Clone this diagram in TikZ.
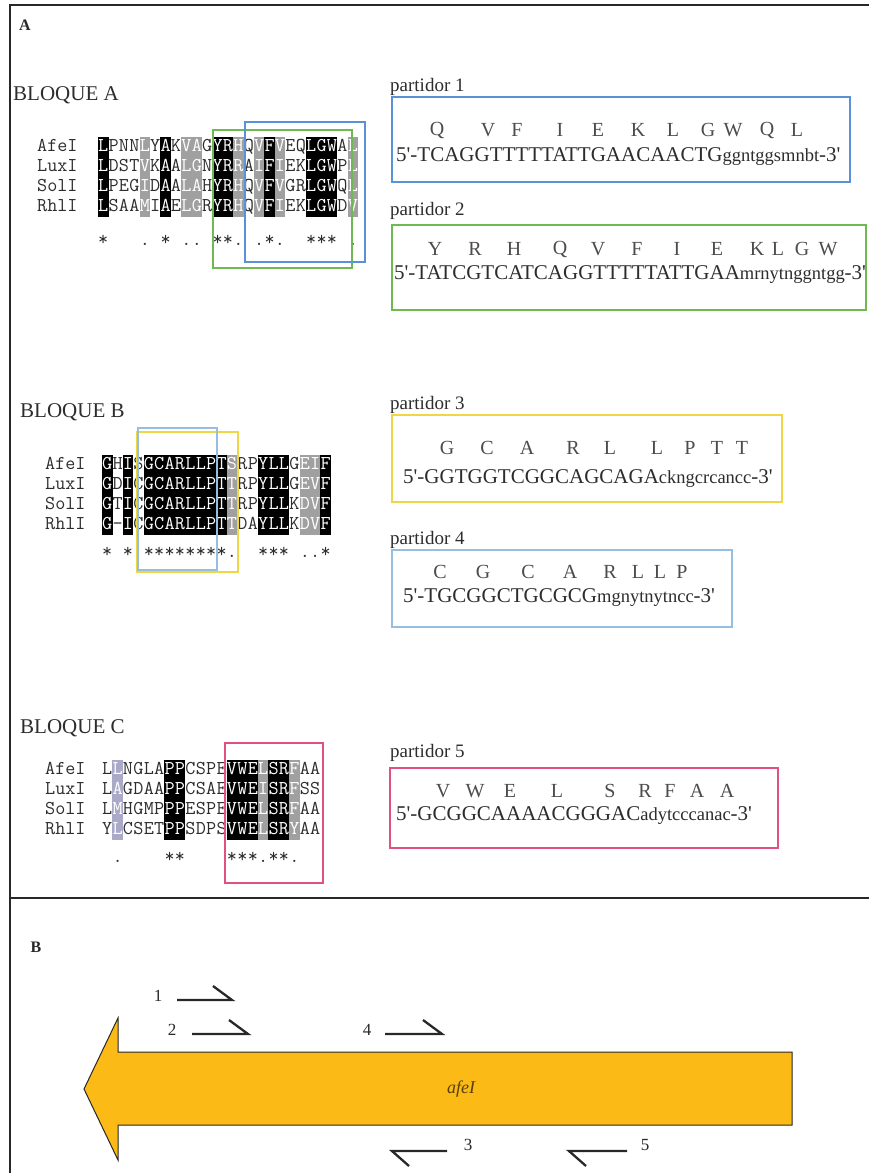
\documentclass[tikz,border=0pt]{standalone}
\usepackage{fontspec}
\setmainfont{Liberation Serif}[Ligatures=TeXOff]
\definecolor{cBlue}{RGB}{90,145,215}
\definecolor{cGreen}{RGB}{110,185,80}
\definecolor{cYellow}{RGB}{238,214,70}
\definecolor{cLBlue}{RGB}{150,190,225}
\definecolor{cPink}{RGB}{225,80,130}
\definecolor{cGrey}{RGB}{160,160,160}
\definecolor{cLav}{RGB}{170,170,200}
\definecolor{cOrange}{RGB}{252,186,22}
\definecolor{cTxt}{RGB}{45,45,45}
\definecolor{cFrame}{RGB}{40,40,40}
\newcommand\monofont{\ttfamily\fontsize{19.6}{22}\selectfont}
\tikzset{
  cell/.style={minimum width=10.6pt, minimum height=20pt, inner sep=0pt,
    text height=13pt, text depth=4pt, font=\monofont},
  sb/.style={cell, fill=black, text=white},
  sg/.style={cell, fill=cGrey, text=white},
  sl/.style={cell, fill=cLav, text=white},
  sn/.style={cell, text=cTxt},
  seqname/.style={inner sep=0pt, anchor=west, text height=13pt, text depth=4pt,
    font=\monofont, text=cTxt},
  cons/.style={inner sep=0pt, anchor=base, font=\monofont, text=cTxt},
  alnbox/.style={draw, line width=1.4pt, inner sep=0pt, fill=none},
  pbox/.style={draw, line width=1.5pt, inner sep=0pt},
  plabel/.style={inner sep=0pt, anchor=west, font=\fontsize{19}{22}\selectfont, text=cTxt},
  aa/.style={inner sep=0pt, font=\fontsize{20}{24}\selectfont, text=cTxt!85},
  seqtxt/.style={inner sep=0pt, anchor=west, font=\fontsize{21}{24}\selectfont, text=cTxt},
  blabel/.style={inner sep=0pt, anchor=west, font=\fontsize{21}{24}\selectfont, text=cTxt},
  primer/.style={line width=2.3pt, draw=cFrame, line join=miter},
  pnum/.style={inner sep=0pt, font=\fontsize{17}{19}\selectfont, text=cFrame},
}
\newcommand\lc[1]{{\fontsize{18.5}{20}\selectfont #1}}
\newcommand\alnblock[5]{% x0, y0, prefix, name x, columns
  \foreach \nm [count=\j from 0] in {AfeI,LuxI,SolI,RhlI}
    \node[seqname] (#3n\j) at (#4, {#2+20*\j}) {\nm};
  \foreach \k/\a/\b/\c/\d [count=\i from 0] in {#5} {
    \node[\k] (#3a\i) at ({#1+(\i+0.5)*10.4}, #2) {\a};
    \node[\k] (#3b\i) at ({#1+(\i+0.5)*10.4}, {#2+20}) {\b};
    \node[\k] (#3c\i) at ({#1+(\i+0.5)*10.4}, {#2+40}) {\c};
    \node[\k] (#3d\i) at ({#1+(\i+0.5)*10.4}, {#2+60}) {\d};
  }}
\newcommand\consrow[4]{% x0, baseline y, prefix, list pos/sym
  \foreach \p/\s in {#4}
    \node[cons] (#3s\p) at ({#1+(\p+0.5)*10.4}, #2) {\s};}
\begin{document}
\begin{tikzpicture}[x=1pt, y=-1pt]
\useasboundingbox (0,0) rectangle (869,1173);
\fill[white] (0,0) rectangle (869,1173);
% frame
\draw[line width=2pt, cFrame] (869,5) -- (10,5) -- (10,1173);
\draw[line width=2pt, cFrame] (10,898) -- (869,898);
\node[inner sep=0pt, font=\bfseries\fontsize{16}{18}\selectfont, text=cFrame] (labA) at (25,25) {A};
\node[inner sep=0pt, font=\bfseries\fontsize{16}{18}\selectfont, text=cFrame] (labB) at (36,947) {B};

% ---------- BLOQUE A ----------
\node[blabel] (blqA) at (13,95) {BLOQUE A};
\alnblock{98}{147}{A}{37}{sb/L/L/L/L, sn/P/D/P/S, sn/N/S/E/A, sn/N/T/G/A, sg/L/V/I/M, sn/Y/K/D/I, sb/A/A/A/A, sn/K/A/A/E, sg/V/L/L/L, sg/A/G/A/G, sn/G/N/H/R, sb/Y/Y/Y/Y, sb/R/R/R/R, sg/H/R/H/H, sn/Q/A/Q/Q, sg/V/I/V/V, sb/F/F/F/F, sg/V/I/V/I, sn/E/E/G/E, sn/Q/K/R/K, sb/L/L/L/L, sb/G/G/G/G, sb/W/W/W/W, sn/A/P/Q/D, sg/L/L/L/V}
\consrow{98}{245}{A}{0/*,4/.,6/*,8/.,9/.,11/*,12/*,13/.,15/.,16/*,17/.,20/*,21/*,22/*,24/.}
\node[alnbox, draw=cGreen, minimum width=139pt, minimum height=138pt] (gboxA) at (282.5,199) {};
\node[alnbox, draw=cBlue, minimum width=120pt, minimum height=140pt] (bboxA) at (305,192) {};

% partidor 1
\node[plabel] (pl1) at (390,87) {partidor 1};
\node[pbox, draw=cBlue, minimum width=458pt, minimum height=85pt] (box1) at (621,139.5) {};
\foreach \x/\l [count=\i] in {437/Q,488/V,517/F,560/I,598/E,638/K,673/L,708/G,733/W,767/Q,797/L}
  \node[aa] (p1aa\i) at (\x,130) {\l};
\node[seqtxt] (p1seq) at (396,157) {5'-TCAGGTTTTTATTGAACAACTG\lc{ggntggsmnbt}-3'};

% partidor 2
\node[plabel] (pl2) at (390,211) {partidor 2};
\node[pbox, draw=cGreen, minimum width=474pt, minimum height=85pt] (box2) at (629,267.5) {};
\foreach \x/\l [count=\i] in {435/Y,475/R,514/H,560/Q,598/V,637/F,677/I,717/E,757/K,778/L,802/G,828/W}
  \node[aa] (p2aa\i) at (\x,249) {\l};
\node[seqtxt] (p2seq) at (394,275) {5'-TATCGTCATCAGGTTTTTATTGAA\lc{mrnytnggntgg}-3'};

% ---------- BLOQUE B ----------
\node[blabel] (blqB) at (20,412) {BLOQUE B};
\alnblock{102}{465}{B}{45}{sb/G/G/G/G, sn/H/D/T/-, sb/I/I/I/I, sn/S/C/C/C, sb/G/G/G/G, sb/C/C/C/C, sb/A/A/A/A, sb/R/R/R/R, sb/L/L/L/L, sb/L/L/L/L, sb/P/P/P/P, sb/T/T/T/T, sg/S/T/T/T, sn/R/R/R/D, sn/P/P/P/A, sb/Y/Y/Y/Y, sb/L/L/L/L, sb/L/L/L/L, sn/G/G/K/K, sg/E/E/D/D, sg/I/V/V/V, sb/F/F/F/F}
\consrow{102}{557}{B}{0/*,2/*,4/*,5/*,6/*,7/*,8/*,9/*,10/*,11/*,12/.,15/*,16/*,17/*,19/.,20/.,21/*}
\node[alnbox, draw=cYellow, minimum width=101pt, minimum height=140pt] (yboxB) at (187.5,502) {};
\node[alnbox, draw=cLBlue, minimum width=79pt, minimum height=142pt] (bboxB) at (177.5,499) {};

% partidor 3
\node[plabel] (pl3) at (390,405) {partidor 3};
\node[pbox, draw=cYellow, minimum width=390pt, minimum height=87pt] (box3) at (587,458.5) {};
\foreach \x/\l [count=\i] in {447/G,487/C,527/A,573/R,610/L,657/L,690/P,717/T,742/T}
  \node[aa] (p3aa\i) at (\x,448) {\l};
\node[seqtxt] (p3seq) at (403,479) {5'-GGTGGTCGGCAGCAGA\lc{ckngcrcancc}-3'};

% partidor 4
\node[plabel] (pl4) at (390,540) {partidor 4};
\node[pbox, draw=cLBlue, minimum width=340pt, minimum height=77pt] (box4) at (562,588.5) {};
\foreach \x/\l [count=\i] in {440/C,483/G,528/C,570/A,610/R,638/L,660/L,682/P}
  \node[aa] (p4aa\i) at (\x,572) {\l};
\node[seqtxt] (p4seq) at (403,598) {5'-TGCGGCTGCGCG\lc{mgnytnytncc}-3'};

% ---------- BLOQUE C ----------
\node[blabel] (blqC) at (20,728) {BLOQUE C};
\alnblock{102}{770}{C}{45}{sn/L/L/L/Y, sl/L/A/M/L, sn/N/G/H/C, sn/G/D/G/S, sn/L/A/M/E, sn/A/A/P/T, sb/P/P/P/P, sb/P/P/P/P, sn/C/C/E/S, sn/S/S/S/D, sn/P/A/P/P, sn/E/E/E/S, sb/V/V/V/V, sb/W/W/W/W, sb/E/E/E/E, sg/L/I/L/L, sb/S/S/S/S, sb/R/R/R/R, sg/F/F/F/Y, sn/A/S/A/A, sn/A/S/A/A}
\consrow{102}{862}{C}{1/.,6/*,7/*,12/*,13/*,14/*,15/.,16/*,17/*,18/.}
\node[alnbox, draw=cPink, minimum width=98pt, minimum height=140pt] (pboxC) at (274,813) {};

% partidor 5
\node[plabel] (pl5) at (390,753) {partidor 5};
\node[pbox, draw=cPink, minimum width=388pt, minimum height=80pt] (box5) at (584,808) {};
\foreach \x/\l [count=\i] in {443/V,475/W,510/E,557/L,610/S,645/R,670/F,697/A,727/A}
  \node[aa] (p5aa\i) at (\x,791) {\l};
\node[seqtxt] (p5seq) at (396,816) {5'-GCGGCAAAACGGGAC\lc{adytcccanac}-3'};

% ---------- B: gene map ----------
\draw[fill=cOrange, draw=cFrame, line width=1pt]
  (84,1089) -- (118,1018) -- (118,1052) -- (792,1052) -- (792,1125) -- (118,1125) -- (118,1160) -- cycle;
\node[inner sep=0pt, font=\itshape\fontsize{18}{20}\selectfont, text=black!65!cOrange] (gene) at (461,1089) {afeI};

\node[pnum] (n1) at (158,996) {1};
\draw[primer] (177,1000) -- (232,1000) -- (213,986);
\node[pnum] (n2) at (172,1030) {2};
\draw[primer] (192,1034) -- (248,1034) -- (229,1020);
\node[pnum] (n4) at (367,1030) {4};
\draw[primer] (385,1034) -- (442,1034) -- (423,1020);
\node[pnum] (n3) at (468,1145) {3};
\draw[primer] (447,1151) -- (392,1151) -- (409,1166);
\node[pnum] (n5) at (645,1145) {5};
\draw[primer] (627,1151) -- (569,1151) -- (586,1166);
\end{tikzpicture}
\end{document}
